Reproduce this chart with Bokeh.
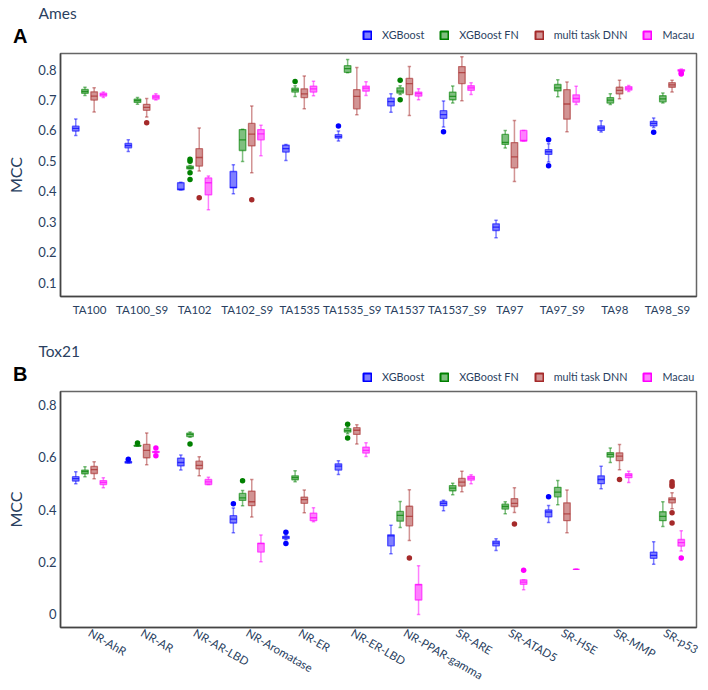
from bokeh.plotting import figure
from bokeh.models import Range1d, FixedTicker, Legend, LegendItem, ColumnDataSource
from bokeh.layouts import column
from bokeh.embed import file_html
from bokeh.resources import INLINE
import math

# ---------------- data ----------------
models = ["XGBoost", "XGBoost FN", "multi task DNN", "Macau"]

ames_categories = ["TA100", "TA100_S9", "TA102", "TA102_S9", "TA1535", "TA1535_S9",
                   "TA1537", "TA1537_S9", "TA97", "TA97_S9", "TA98", "TA98_S9"]

# each row: lower whisker, q1, median, q3, upper whisker
ames_xgb = [
    [0.583, 0.598, 0.607, 0.614, 0.638],
    [0.531, 0.543, 0.550, 0.557, 0.569],
    [0.404, 0.405, 0.407, 0.428, 0.430],
    [0.392, 0.411, 0.413, 0.465, 0.487],
    [0.501, 0.529, 0.540, 0.552, 0.554],
    [0.565, 0.575, 0.580, 0.586, 0.598],
    [0.660, 0.681, 0.695, 0.706, 0.721],
    [0.611, 0.640, 0.652, 0.665, 0.697],
    [0.247, 0.271, 0.282, 0.293, 0.305],
    [0.496, 0.521, 0.530, 0.537, 0.556],
    [0.595, 0.600, 0.608, 0.615, 0.632],
    [0.610, 0.615, 0.623, 0.630, 0.641],
]
ames_xgb_out = [[], [], [], [], [], [0.615], [], [0.596], [], [0.569, 0.484], [], [0.594]]

ames_xgbfn = [
    [0.715, 0.722, 0.728, 0.735, 0.742],
    [0.686, 0.692, 0.698, 0.703, 0.708],
    [0.474, 0.474, 0.478, 0.483, 0.485],
    [0.498, 0.534, 0.569, 0.603, 0.604],
    [0.712, 0.726, 0.733, 0.739, 0.747],
    [0.790, 0.791, 0.803, 0.813, 0.833],
    [0.718, 0.723, 0.729, 0.740, 0.747],
    [0.690, 0.701, 0.712, 0.726, 0.746],
    [0.542, 0.554, 0.561, 0.587, 0.600],
    [0.711, 0.730, 0.740, 0.751, 0.767],
    [0.685, 0.690, 0.700, 0.708, 0.721],
    [0.690, 0.694, 0.704, 0.714, 0.723],
]
ames_xgbfn_out = [[], [], [0.505, 0.499, 0.461, 0.439], [], [0.761], [], [0.765, 0.701],
                  [], [], [], [], []]

ames_dnn = [
    [0.661, 0.700, 0.713, 0.727, 0.740],
    [0.644, 0.666, 0.676, 0.686, 0.705],
    [0.467, 0.483, 0.511, 0.540, 0.608],
    [0.461, 0.549, 0.588, 0.623, 0.680],
    [0.671, 0.708, 0.720, 0.737, 0.779],
    [0.652, 0.671, 0.712, 0.734, 0.807],
    [0.649, 0.718, 0.754, 0.771, 0.810],
    [0.698, 0.754, 0.790, 0.810, 0.842],
    [0.432, 0.477, 0.513, 0.560, 0.633],
    [0.596, 0.637, 0.687, 0.734, 0.759],
    [0.704, 0.720, 0.732, 0.742, 0.765],
    [0.726, 0.742, 0.750, 0.757, 0.765],
]
ames_dnn_out = [[], [0.625], [0.379], [0.372], [], [], [], [], [], [], [], []]

ames_macau = [
    [0.708, 0.713, 0.718, 0.723, 0.726],
    [0.700, 0.703, 0.710, 0.715, 0.721],
    [0.339, 0.388, 0.428, 0.444, 0.450],
    [0.517, 0.569, 0.589, 0.603, 0.617],
    [0.714, 0.726, 0.737, 0.746, 0.762],
    [0.715, 0.729, 0.739, 0.746, 0.760],
    [0.701, 0.713, 0.721, 0.726, 0.737],
    [0.718, 0.732, 0.740, 0.747, 0.757],
    [0.565, 0.565, 0.567, 0.600, 0.600],
    [0.685, 0.693, 0.705, 0.717, 0.745],
    [0.728, 0.733, 0.739, 0.744, 0.748],
    [0.794, 0.795, 0.797, 0.800, 0.802],
]
ames_macau_out = [[], [], [], [], [], [], [], [], [], [], [], [0.786, 0.789]]

tox_categories = ["NR-AhR", "NR-AR", "NR-AR-LBD", "NR-Aromatase", "NR-ER", "NR-ER-LBD",
                  "NR-PPAR-gamma", "SR-ARE", "SR-ATAD5", "SR-HSE", "SR-MMP", "SR-p53"]

tox_xgb = [
    [0.499, 0.509, 0.518, 0.526, 0.545],
    [0.578, 0.578, 0.581, 0.584, 0.584],
    [0.551, 0.567, 0.580, 0.597, 0.609],
    [0.312, 0.349, 0.364, 0.377, 0.406],
    [0.285, 0.289, 0.294, 0.298, 0.302],
    [0.534, 0.551, 0.566, 0.575, 0.587],
    [0.232, 0.262, 0.300, 0.304, 0.340],
    [0.396, 0.415, 0.424, 0.431, 0.436],
    [0.244, 0.262, 0.272, 0.280, 0.289],
    [0.351, 0.372, 0.391, 0.399, 0.416],
    [0.480, 0.499, 0.515, 0.529, 0.566],
    [0.191, 0.214, 0.225, 0.238, 0.277],
]
tox_xgb_out = [[], [0.592], [], [0.422], [0.314, 0.271], [], [], [], [], [0.449], [], []]

tox_xgbfn = [
    [0.526, 0.537, 0.545, 0.551, 0.564],
    [0.642, 0.642, 0.644, 0.646, 0.646],
    [0.676, 0.679, 0.687, 0.692, 0.696],
    [0.415, 0.435, 0.445, 0.462, 0.473],
    [0.506, 0.514, 0.522, 0.529, 0.548],
    [0.690, 0.696, 0.702, 0.709, 0.714],
    [0.332, 0.356, 0.378, 0.393, 0.431],
    [0.457, 0.472, 0.482, 0.492, 0.501],
    [0.384, 0.402, 0.412, 0.421, 0.430],
    [0.419, 0.449, 0.467, 0.485, 0.511],
    [0.580, 0.601, 0.611, 0.618, 0.635],
    [0.336, 0.358, 0.374, 0.392, 0.430],
]
tox_xgbfn_out = [[], [0.654], [0.651], [0.510], [], [0.726, 0.673], [], [], [], [], [], []]

tox_dnn = [
    [0.518, 0.538, 0.553, 0.565, 0.583],
    [0.571, 0.598, 0.626, 0.649, 0.693],
    [0.529, 0.556, 0.569, 0.585, 0.602],
    [0.372, 0.415, 0.430, 0.471, 0.515],
    [0.388, 0.424, 0.438, 0.448, 0.475],
    [0.651, 0.687, 0.703, 0.713, 0.724],
    [0.282, 0.338, 0.374, 0.413, 0.476],
    [0.468, 0.490, 0.505, 0.519, 0.547],
    [0.389, 0.412, 0.424, 0.442, 0.484],
    [0.312, 0.358, 0.384, 0.426, 0.475],
    [0.552, 0.587, 0.604, 0.617, 0.649],
    [0.403, 0.426, 0.438, 0.445, 0.464],
]
tox_dnn_out = [[], [], [], [], [], [], [0.215], [], [0.345], [], [0.515],
               [0.506, 0.497, 0.489, 0.388, 0.349]]

tox_macau = [
    [0.484, 0.496, 0.504, 0.511, 0.522],
    [0.618, 0.618, 0.620, 0.622, 0.622],
    [0.496, 0.496, 0.506, 0.515, 0.524],
    [0.201, 0.238, 0.270, 0.272, 0.303],
    [0.354, 0.358, 0.369, 0.387, 0.407],
    [0.603, 0.616, 0.626, 0.639, 0.655],
    [0.000, 0.055, 0.113, 0.115, 0.186],
    [0.499, 0.513, 0.520, 0.527, 0.533],
    [0.094, 0.115, 0.123, 0.132, 0.132],
    [0.172, 0.172, 0.172, 0.172, 0.172],
    [0.504, 0.522, 0.531, 0.537, 0.547],
    [0.242, 0.261, 0.274, 0.286, 0.319],
]
tox_macau_out = [[], [0.635, 0.606], [], [], [], [], [], [], [0.169], [], [], [0.215]]

ames_yticks = [0.1, 0.2, 0.3, 0.4, 0.5, 0.6, 0.7, 0.8]
tox_yticks = [0, 0.2, 0.4, 0.6, 0.8]

# ---------------- styling ----------------
COLORS = ["#0000ff", "#008000", "#a52a2a", "#ff00ff"]
OFFSETS = [-0.2625, -0.0875, 0.0875, 0.2625]
BOX_W = 0.125
CAP_W = 0.065
TEXT_COLOR = "#2a3f5f"
FONT = "Lato"
W = 700
HEADER_H = 51
HEADER_TOP = 21


def make_header(title, letter, letter_y, legend_y):
    """Header strip: panel title, panel letter (as a lone left-axis label) and legend."""
    fh = HEADER_H - HEADER_TOP
    h = figure(width=W, height=HEADER_H, output_backend="svg", toolbar_location=None,
               title=title, x_range=Range1d(0, 1), y_range=Range1d(0, fh),
               x_axis_type=None,
               min_border_left=60, min_border_right=4,
               min_border_top=HEADER_TOP, min_border_bottom=0)
    h.grid.visible = False
    h.outline_line_color = None
    h.title.align = "left"
    h.title.offset = -22
    h.title.standoff = 0
    h.title.text_font = FONT
    h.title.text_font_size = "15.5px"
    h.title.text_font_style = "normal"
    h.title.text_color = TEXT_COLOR

    ya = h.yaxis[0]
    ya.ticker = FixedTicker(ticks=[letter_y], minor_ticks=[])
    ya.major_label_overrides = {letter_y: letter}
    ya.axis_line_color = None
    ya.major_tick_line_color = None
    ya.minor_tick_line_color = None
    ya.major_tick_out = 0
    ya.major_tick_in = 0
    ya.major_label_standoff = 33
    ya.major_label_text_font = "Liberation Sans"
    ya.major_label_text_font_size = "20px"
    ya.major_label_text_font_style = "bold"
    ya.major_label_text_color = "black"

    items = []
    for m, name in enumerate(models):
        c = COLORS[m]
        # legend swatch proxy, kept outside the visible header range
        r = h.quad(left=[-2], right=[-1], top=[-1], bottom=[-2], fill_color=c,
                   fill_alpha=0.5, line_color=c, line_width=2)
        items.append(LegendItem(label=name, renderers=[r]))
    legend = Legend(items=items, orientation="horizontal", location=(302, legend_y),
                    glyph_width=10, glyph_height=10, label_standoff=10, spacing=15,
                    padding=0, margin=0, border_line_color=None, background_fill_alpha=0,
                    label_text_font=FONT, label_text_font_size="10.8px",
                    label_text_color=TEXT_COLOR)
    h.add_layout(legend, "center")
    return h


def make_panel(categories, stats, outs, y_lo, y_hi, yticks, height, b_bottom, rotate):
    p = figure(width=W, height=height, output_backend="svg", toolbar_location=None,
               title=None,
               x_range=Range1d(-0.553, len(categories) - 1 + 0.553),
               y_range=Range1d(y_lo, y_hi),
               min_border_left=60, min_border_right=4,
               min_border_top=2, min_border_bottom=b_bottom)
    p.grid.visible = False
    p.outline_line_color = "#666666"
    p.outline_line_width = 1.5
    p.outline_line_alpha = 1.0

    for m, name in enumerate(models):
        c = COLORS[m]
        rows = stats[m]
        xs = [i + OFFSETS[m] for i in range(len(rows))]
        src = ColumnDataSource(dict(
            x=xs,
            xl=[x - BOX_W / 2 for x in xs], xr=[x + BOX_W / 2 for x in xs],
            cl=[x - CAP_W / 2 for x in xs], cr=[x + CAP_W / 2 for x in xs],
            lw=[r[0] for r in rows], q1=[r[1] for r in rows], med=[r[2] for r in rows],
            q3=[r[3] for r in rows], uw=[r[4] for r in rows]))
        wk = dict(line_color=c, line_alpha=0.5, line_width=1.5)
        p.segment(x0="x", y0="q3", x1="x", y1="uw", source=src, **wk)
        p.segment(x0="x", y0="q1", x1="x", y1="lw", source=src, **wk)
        p.segment(x0="cl", y0="uw", x1="cr", y1="uw", source=src, **wk)
        p.segment(x0="cl", y0="lw", x1="cr", y1="lw", source=src, **wk)
        p.vbar(x="x", width=BOX_W, top="q3", bottom="q1", source=src,
               fill_color=c, fill_alpha=0.5, line_color=c, line_alpha=0.6, line_width=1.3)
        p.segment(x0="xl", y0="med", x1="xr", y1="med", source=src,
                  line_color=c, line_alpha=0.7, line_width=1.3)
        ox, oy = [], []
        for i, lst in enumerate(outs[m]):
            for v in lst:
                ox.append(i + OFFSETS[m])
                oy.append(v)
        p.scatter(x=ox, y=oy, size=5.5, fill_color=c, line_color=c, line_width=0)

    for ax in (p.xaxis[0], p.yaxis[0]):
        ax.axis_line_color = "#444444"
        ax.axis_line_width = 1.5
        ax.major_tick_line_color = None
        ax.minor_tick_line_color = None
        ax.major_tick_out = 0
        ax.major_tick_in = 0
        ax.minor_tick_out = 0
        ax.minor_tick_in = 0
        ax.major_label_text_font = FONT
        ax.major_label_text_color = TEXT_COLOR

    p.yaxis.ticker = FixedTicker(ticks=yticks, minor_ticks=[])
    p.yaxis.major_label_text_font_size = "13px"
    p.yaxis.major_label_standoff = 4
    p.yaxis.major_label_overrides = {0: "0"}
    p.yaxis.axis_label = "MCC"
    p.yaxis.axis_label_text_font = FONT
    p.yaxis.axis_label_text_font_size = "16px"
    p.yaxis.axis_label_text_font_style = "normal"
    p.yaxis.axis_label_text_color = TEXT_COLOR
    p.yaxis.axis_label_standoff = 10

    p.xaxis.ticker = FixedTicker(ticks=list(range(len(categories))), minor_ticks=[])
    p.xaxis.major_label_overrides = {i: c for i, c in enumerate(categories)}
    if rotate:
        p.xaxis.major_label_text_font_size = "11.5px"
        p.xaxis.major_label_orientation = -math.pi / 6
        p.xaxis.major_label_standoff = 4
    else:
        p.xaxis.major_label_text_font_size = "11.5px"
        p.xaxis.major_label_standoff = 6
    return p


h1 = make_header("Ames", "A", 16, 10)
p1 = make_panel(ames_categories,
                [ames_xgb, ames_xgbfn, ames_dnn, ames_macau],
                [ames_xgb_out, ames_xgbfn_out, ames_dnn_out, ames_macau_out],
                0.054, 0.853, ames_yticks, height=287, b_bottom=42, rotate=False)
h2 = make_header("Tox21", "B", 16, 6)
p2 = make_panel(tox_categories,
                [tox_xgb, tox_xgbfn, tox_dnn, tox_macau],
                [tox_xgb_out, tox_xgbfn_out, tox_dnn_out, tox_macau_out],
                -0.05, 0.851, tox_yticks, height=301, b_bottom=63, rotate=True)

layout = column(h1, p1, h2, p2, spacing=0)
open("out.html", "w").write(file_html(layout, INLINE))
